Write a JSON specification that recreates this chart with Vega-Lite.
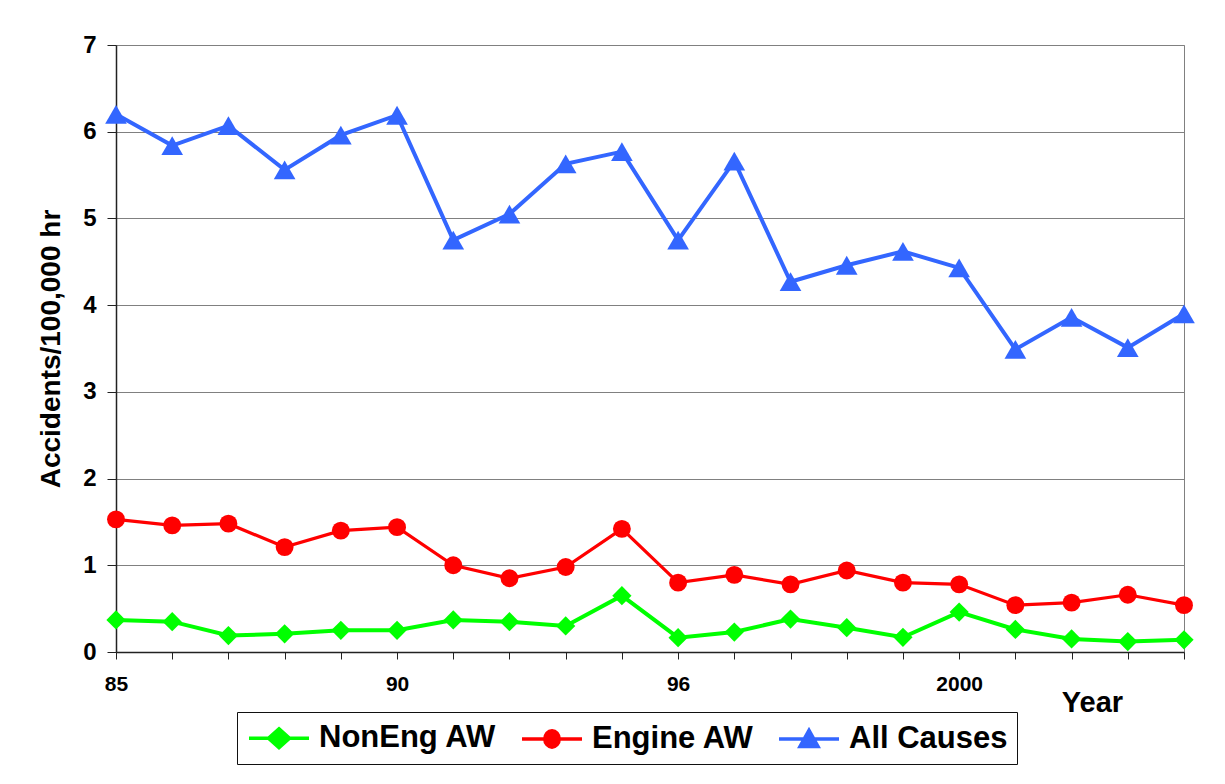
{
  "$schema": "https://vega.github.io/schema/vega-lite/v6.json",
  "width": 1068,
  "height": 607,
  "autosize": {"type": "none"},
  "padding": {"left": 116, "top": 45, "right": 41, "bottom": 132},
  "background": "white",
  "config": {
    "font": "Liberation Sans",
    "view": {"stroke": "#808080", "strokeWidth": 1}
  },
  "datasets": {
    "rates": [
      {"idx": 0, "series": "All Causes", "value": 6.2},
      {"idx": 1, "series": "All Causes", "value": 5.84},
      {"idx": 2, "series": "All Causes", "value": 6.07},
      {"idx": 3, "series": "All Causes", "value": 5.56},
      {"idx": 4, "series": "All Causes", "value": 5.96},
      {"idx": 5, "series": "All Causes", "value": 6.19},
      {"idx": 6, "series": "All Causes", "value": 4.75},
      {"idx": 7, "series": "All Causes", "value": 5.05},
      {"idx": 8, "series": "All Causes", "value": 5.63},
      {"idx": 9, "series": "All Causes", "value": 5.77},
      {"idx": 10, "series": "All Causes", "value": 4.75},
      {"idx": 11, "series": "All Causes", "value": 5.66},
      {"idx": 12, "series": "All Causes", "value": 4.27},
      {"idx": 13, "series": "All Causes", "value": 4.46},
      {"idx": 14, "series": "All Causes", "value": 4.62},
      {"idx": 15, "series": "All Causes", "value": 4.43},
      {"idx": 16, "series": "All Causes", "value": 3.49},
      {"idx": 17, "series": "All Causes", "value": 3.86},
      {"idx": 18, "series": "All Causes", "value": 3.51},
      {"idx": 19, "series": "All Causes", "value": 3.9},
      {"idx": 0, "series": "Engine AW", "value": 1.53},
      {"idx": 1, "series": "Engine AW", "value": 1.46},
      {"idx": 2, "series": "Engine AW", "value": 1.48},
      {"idx": 3, "series": "Engine AW", "value": 1.21},
      {"idx": 4, "series": "Engine AW", "value": 1.4},
      {"idx": 5, "series": "Engine AW", "value": 1.44},
      {"idx": 6, "series": "Engine AW", "value": 1.0},
      {"idx": 7, "series": "Engine AW", "value": 0.85},
      {"idx": 8, "series": "Engine AW", "value": 0.98},
      {"idx": 9, "series": "Engine AW", "value": 1.42},
      {"idx": 10, "series": "Engine AW", "value": 0.8},
      {"idx": 11, "series": "Engine AW", "value": 0.89},
      {"idx": 12, "series": "Engine AW", "value": 0.78},
      {"idx": 13, "series": "Engine AW", "value": 0.94},
      {"idx": 14, "series": "Engine AW", "value": 0.8},
      {"idx": 15, "series": "Engine AW", "value": 0.78},
      {"idx": 16, "series": "Engine AW", "value": 0.54},
      {"idx": 17, "series": "Engine AW", "value": 0.57},
      {"idx": 18, "series": "Engine AW", "value": 0.66},
      {"idx": 19, "series": "Engine AW", "value": 0.54},
      {"idx": 0, "series": "NonEng AW", "value": 0.37},
      {"idx": 1, "series": "NonEng AW", "value": 0.35},
      {"idx": 2, "series": "NonEng AW", "value": 0.19},
      {"idx": 3, "series": "NonEng AW", "value": 0.21},
      {"idx": 4, "series": "NonEng AW", "value": 0.25},
      {"idx": 5, "series": "NonEng AW", "value": 0.25},
      {"idx": 6, "series": "NonEng AW", "value": 0.37},
      {"idx": 7, "series": "NonEng AW", "value": 0.35},
      {"idx": 8, "series": "NonEng AW", "value": 0.3},
      {"idx": 9, "series": "NonEng AW", "value": 0.65},
      {"idx": 10, "series": "NonEng AW", "value": 0.165},
      {"idx": 11, "series": "NonEng AW", "value": 0.23},
      {"idx": 12, "series": "NonEng AW", "value": 0.38},
      {"idx": 13, "series": "NonEng AW", "value": 0.28},
      {"idx": 14, "series": "NonEng AW", "value": 0.17},
      {"idx": 15, "series": "NonEng AW", "value": 0.46},
      {"idx": 16, "series": "NonEng AW", "value": 0.26},
      {"idx": 17, "series": "NonEng AW", "value": 0.15},
      {"idx": 18, "series": "NonEng AW", "value": 0.12},
      {"idx": 19, "series": "NonEng AW", "value": 0.14}
    ]
  },
  "data": {"name": "rates"},
  "encoding": {
    "x": {
      "field": "idx",
      "type": "quantitative",
      "scale": {"domain": [0, 19], "nice": false, "zero": false},
      "axis": {
        "title": "Year",
        "titleFontSize": 29,
        "titleFontWeight": "bold",
        "titleColor": "black",
        "titleX": 976,
        "titleY": 59,
        "titleAlign": "center",
        "titleBaseline": "alphabetic",
        "values": [0,1,2,3,4,5,6,7,8,9,10,11,12,13,14,15,16,17,18,19],
        "labelExpr": "datum.value == 0 ? '85' : datum.value == 5 ? '90' : datum.value == 10 ? '96' : datum.value == 15 ? '2000' : ''",
        "labelFontSize": 21,
        "labelFontWeight": "bold",
        "labelColor": "black",
        "labelPadding": 14,
        "labelOverlap": false,
        "labelFlush": false,
        "tickSize": 7,
        "tickColor": "#222222",
        "tickWidth": 1,
        "domainColor": "#222222",
        "domainWidth": 1.5,
        "grid": false
      }
    },
    "y": {
      "field": "value",
      "type": "quantitative",
      "scale": {"domain": [0, 7], "nice": false},
      "axis": {
        "title": "Accidents/100,000 hr",
        "titleFontSize": 28,
        "titleFontWeight": "bold",
        "titleColor": "black",
        "titlePadding": 17,
        "values": [0,1,2,3,4,5,6,7],
        "labelFontSize": 24,
        "labelFontWeight": "bold",
        "labelColor": "black",
        "labelPadding": 11,
        "tickSize": 9,
        "tickColor": "#222222",
        "domainColor": "#222222",
        "domainWidth": 1.5,
        "grid": true,
        "gridColor": "#808080",
        "gridWidth": 1
      }
    },
    "color": {
      "field": "series",
      "type": "nominal",
      "scale": {
        "domain": ["NonEng AW", "Engine AW", "All Causes"],
        "range": ["#00FF00", "#FF0000", "#3366FF"]
      },
      "legend": {
        "title": null,
        "orient": "none",
        "direction": "horizontal",
        "legendX": 121,
        "legendY": 667,
        "strokeColor": "#111111",
        "padding": 9,
        "labelFontSize": 31,
        "labelFontWeight": "bold",
        "labelColor": "black",
        "labelLimit": 0,
        "labelOffset": 39,
        "columnPadding": 18,
        "symbolSize": 900,
        "symbolStrokeWidth": 3.5,
        "symbolOpacity": 1,
        "encode": {
          "symbols": {
            "update": {
              "shape": {"signal": "datum.value === 'NonEng AW' ? 'M-0.933,0H3.067M1.067,-0.63L1.767,0L1.067,0.63L0.367,0Z' : datum.value === 'Engine AW' ? 'M-0.933,0H3.067M0.587,0A0.48,0.55 0 1,0 1.547,0A0.48,0.55 0 1,0 0.587,0Z' : 'M-0.933,0H3.067M1.067,-0.58L1.667,0.5L0.467,0.5Z'"},
              "fill": {"signal": "scale('color', datum.value)"},
              "stroke": {"signal": "scale('color', datum.value)"},
              "strokeWidth": {"value": 3.5},
              "size": {"value": 900},
              "opacity": {"value": 1},
              "fillOpacity": {"value": 1},
              "strokeOpacity": {"value": 1}
            }
          }
        }
      }
    }
  },
  "layer": [
    {
      "transform": [{"filter": "datum.series === 'NonEng AW'"}],
      "mark": {"type": "line", "strokeWidth": 4},
      "encoding": {"order": {"field": "idx"}}
    },
    {
      "transform": [{"filter": "datum.series === 'Engine AW'"}],
      "mark": {"type": "line", "strokeWidth": 3.2},
      "encoding": {"order": {"field": "idx"}}
    },
    {
      "transform": [{"filter": "datum.series === 'All Causes'"}],
      "mark": {"type": "line", "strokeWidth": 4},
      "encoding": {"order": {"field": "idx"}}
    },
    {
      "transform": [{"filter": "datum.series === 'NonEng AW'"}],
      "mark": {"type": "point", "filled": true, "opacity": 1, "shape": "diamond", "size": 370}
    },
    {
      "transform": [{"filter": "datum.series === 'Engine AW'"}],
      "mark": {"type": "point", "filled": true, "opacity": 1, "shape": "circle", "size": 320}
    },
    {
      "transform": [{"filter": "datum.series === 'All Causes'"}],
      "mark": {"type": "point", "filled": true, "opacity": 1, "shape": "triangle-up", "size": 470}
    }
  ]
}
